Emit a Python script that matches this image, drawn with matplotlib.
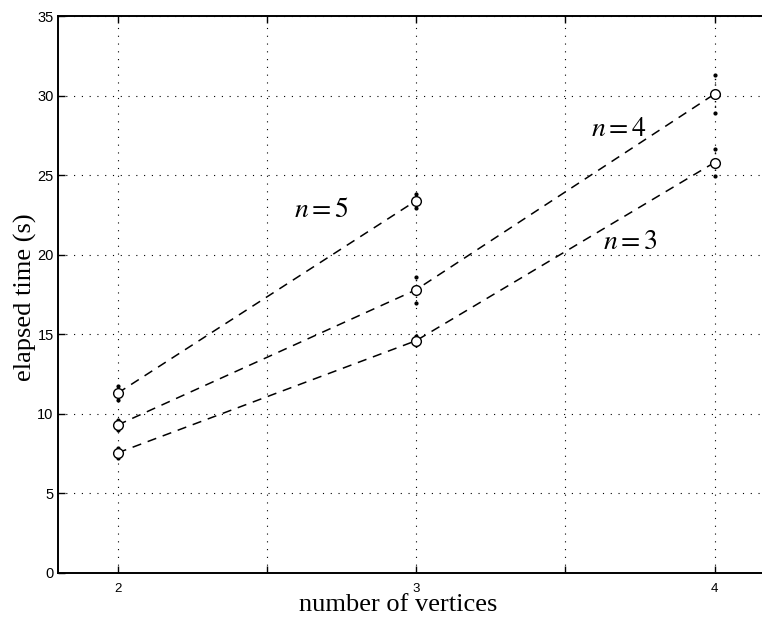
import matplotlib
matplotlib.use("Agg")
import matplotlib.pyplot as plt
import numpy as np

# elapsed time versus number of vertices for several n
vertices = [2, 3, 4]
n3_time = [7.55, 14.6, 25.8]
n3_err = [0.3, 0.3, 0.85]
n4_time = [9.3, 17.8, 30.1]
n4_err = [0.3, 0.8, 1.2]
vertices_n5 = [2, 3]
n5_time = [11.3, 23.4]
n5_err = [0.45, 0.45]

series_labels = ["$n = 3$", "$n = 4$", "$n = 5$"]
label_pos = [(3.72, 20.8), (3.68, 27.9), (2.685, 22.8)]

xticks = [2, 2.5, 3, 3.5, 4]
xtick_labels = ["2", "", "3", "", "4"]
yticks = [0, 5, 10, 15, 20, 25, 30, 35]

plt.rcParams["mathtext.fontset"] = "stix"

fig = plt.figure(figsize=(7.62, 6.25), dpi=100)
ax = fig.add_axes([0.076, 0.0832, 0.94, 0.891])

series = [
    (vertices, n3_time, n3_err),
    (vertices, n4_time, n4_err),
    (vertices_n5, n5_time, n5_err),
]

for xs, ys, es in series:
    xs = np.asarray(xs, float)
    ys = np.asarray(ys, float)
    es = np.asarray(es, float)
    ax.vlines(xs, ys - es, ys + es, colors="black", linestyles=(0, (1, 3)),
              linewidth=1.0, zorder=3)
    ax.plot(np.r_[xs, xs], np.r_[ys - es, ys + es], ls="none", marker="o",
            ms=2.0, color="black", zorder=3)
    ax.plot(xs, ys, ls=(0, (6, 4.5)), color="black", lw=1.1,
            marker="o", ms=7, mfc="white", mec="black", mew=1.0, zorder=4)

for text, (tx, ty) in zip(series_labels, label_pos):
    ax.text(tx, ty, text, fontsize=20, ha="center", va="center",
            family="Liberation Serif")

ax.set_xlim(1.8, 4.2)
ax.set_ylim(0, 35)
ax.set_xticks(xticks)
ax.set_xticklabels(xtick_labels)
ax.set_yticks(yticks)
ax.grid(True, color="black", linestyle=(0, (1, 6)), linewidth=0.8)
ax.tick_params(direction="in", length=5, width=1.0, top=True, right=True)
ax.tick_params(axis="y", labelsize=10.5, pad=3)
ax.tick_params(axis="x", labelsize=9.5, pad=7)
for lbl in ax.get_xticklabels() + ax.get_yticklabels():
    lbl.set_family("Liberation Sans")
for side in ("left", "bottom", "top", "right"):
    ax.spines[side].set_linewidth(1.4)

ax.set_xlabel("number of vertices", family="Liberation Serif", fontsize=19)
ax.xaxis.set_label_coords(0.475, -0.0575)
ax.xaxis.label.set_verticalalignment("center")
ax.set_ylabel("elapsed time (s)", family="Liberation Serif", fontsize=19)
ax.yaxis.set_label_coords(-0.0447, 0.495)
ax.yaxis.label.set_verticalalignment("center")

fig.savefig("out.png", dpi=100)
